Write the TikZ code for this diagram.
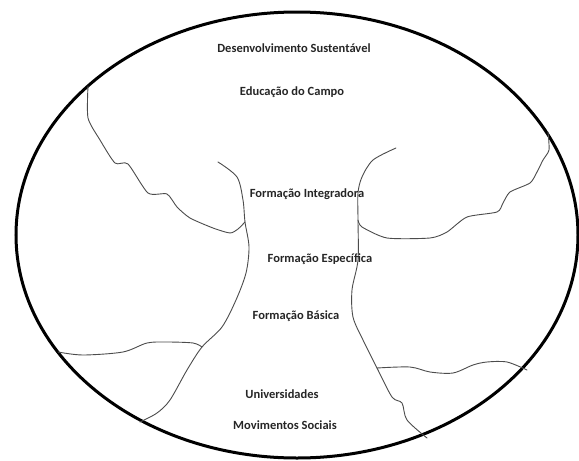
\documentclass[tikz,border=0pt]{standalone}
\usepackage{fontspec}
\setmainfont{Carlito}
\begin{document}
\begin{tikzpicture}[x=1pt,y=-1pt,
  lbl/.style={font=\fontsize{12.5}{15}\selectfont\bfseries, text=black!85, inner sep=0pt},
  branch/.style={draw=black!70, line width=0.9pt, line join=round, line cap=round}]
\useasboundingbox (0,0) rectangle (579,461);
\fill[white] (0,0) rectangle (579,461);
\draw[line width=3pt] (297,235) ellipse [x radius=281pt, y radius=223pt];
% left crown
\draw[branch] plot[smooth, tension=0.4] coordinates {(88,86) (88,118) (100,140) (115,163) (128,164) (148,193) (167,194) (177,207) (190,218) (213,228) (230,233) (238,229) (245,222)};
% left trunk
\draw[branch] plot[smooth, tension=0.5] coordinates {(218,162) (237,177) (243,200) (245,222) (249,247) (246,273) (236,300) (222,327) (202,347) (187,370) (170,400) (157,413) (140,422)};
% left lower branch
\draw[branch] plot[smooth, tension=0.5] coordinates {(58,352) (83,355) (123,352) (147,343) (167,342) (193,343) (202,347)};
% right trunk
\draw[branch] plot[smooth, tension=0.5] coordinates {(396,148) (373,160) (362,177) (358,193) (358,220) (358,260) (352,290) (353,317) (363,340) (377,368) (392,397) (402,403) (407,420) (427,438)};
% right crown
\draw[branch] plot[smooth, tension=0.4] coordinates {(358,220) (362,227) (387,238) (430,238) (447,232) (467,217) (497,212) (503,203) (510,192) (530,183) (537,172) (543,160) (549,150) (548,132)};
% right lower branch
\draw[branch] plot[smooth, tension=0.5] coordinates {(377,368) (410,367) (430,372) (453,373) (473,365) (487,362) (507,362) (527,370)};
% labels
\node[lbl] (ds) at (294,48) {Desenvolvimento Sustentável};
\node[lbl] (ec) at (292,92) {Educação do Campo};
\node[lbl] (fi) at (307,194) {Formação Integradora};
\node[lbl] (fe) at (320,259) {Formação Específica};
\node[lbl] (fb) at (296,316) {Formação Básica};
\node[lbl] (un) at (282,394) {Universidades};
\node[lbl] (ms) at (285,425) {Movimentos Sociais};
\end{tikzpicture}
\end{document}
